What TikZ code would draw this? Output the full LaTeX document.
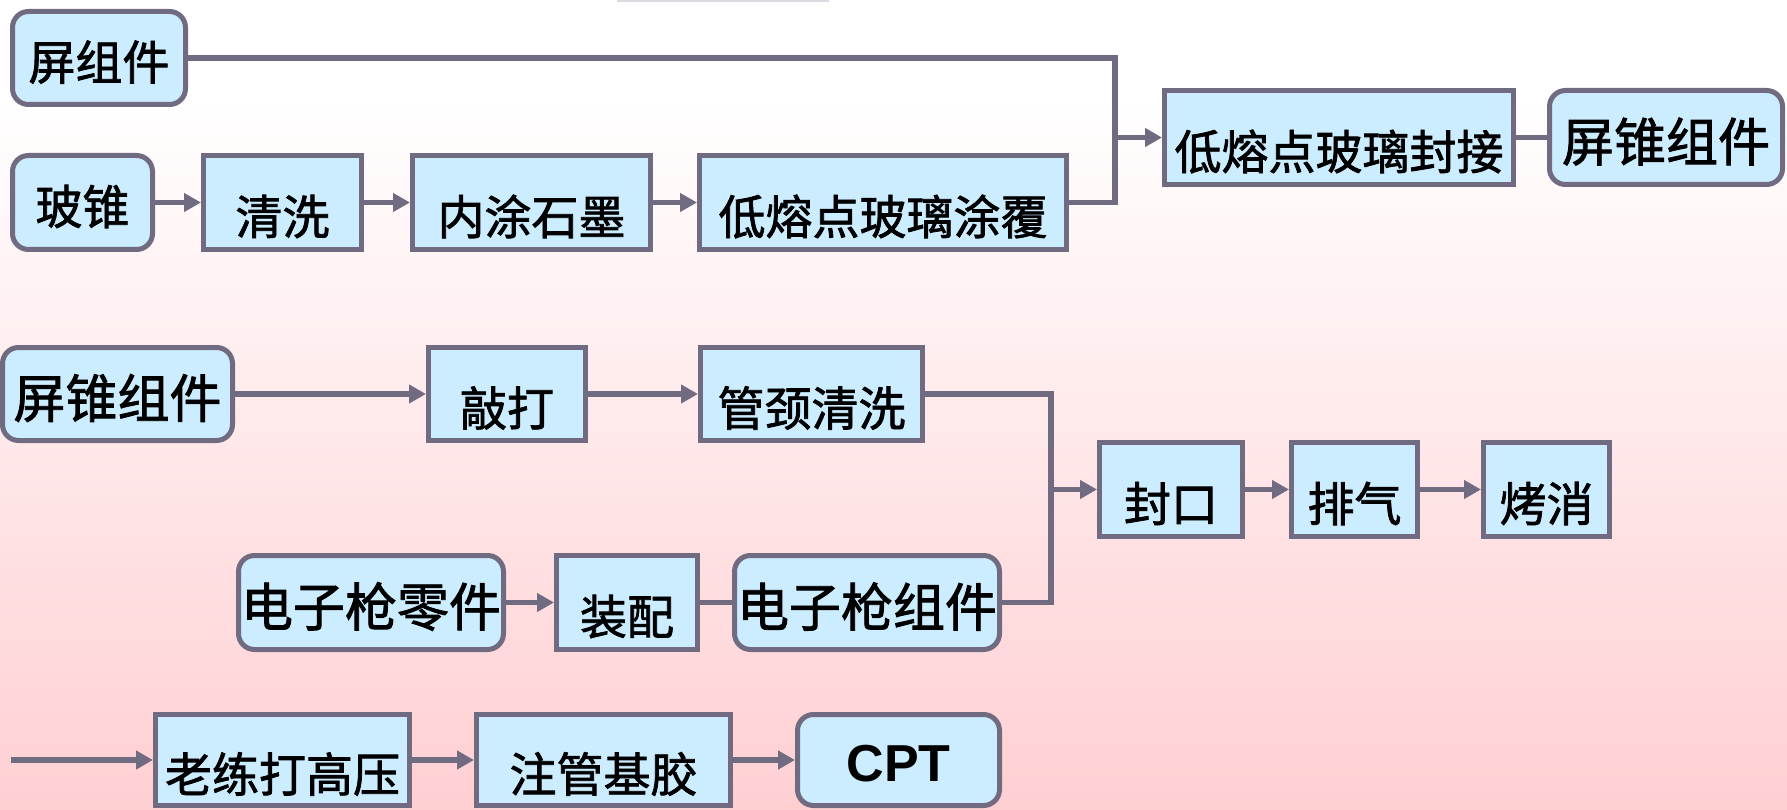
\documentclass[tikz,border=0pt]{standalone}
\usepackage{fontspec}
\setmainfont{Noto Sans CJK SC}[FakeBold=1.6]
\newfontfamily\latinbold{Liberation Sans}
\usetikzlibrary{arrows.meta}
\definecolor{edgec}{RGB}{112,107,128}
\definecolor{fillc}{RGB}{204,236,255}
\definecolor{pinkb}{RGB}{255,207,210}
\definecolor{barc}{RGB}{218,218,224}
\pgfdeclareverticalshading{bgshade}{100bp}{color(0bp)=(pinkb); color(25bp)=(pinkb); color(69bp)=(white); color(100bp)=(white)}
\newcommand{\boxtxt}[1]{\raisebox{-14pt}[\height][\depth]{#1}}
\newcommand{\pilltxt}[1]{\raisebox{-4pt}[\height][\depth]{#1}}
\begin{document}
\begin{tikzpicture}[x=1pt,y=-1pt,
  base/.style={draw=edgec, fill=fillc, line width=5pt, inner sep=0pt, font=\fontsize{47}{50}\selectfont},
  sq/.style={base},
  pill/.style={base, rounded corners=16pt},
  big/.style={font=\fontsize{52}{56}\selectfont},
  conn/.style={draw=edgec, line width=5.5pt},
  arr/.style={conn, -{Triangle[length=17pt,width=18pt]}},
  ]
\useasboundingbox (0,0) rectangle (1787,810);
\shade[shading=bgshade] (0,0) rectangle (1787,810);
\fill[barc] (617,0) rectangle (829,2);

% row 1-2
\node[pill, minimum width=173pt, minimum height=93pt] (screen) at (99,58) {\pilltxt{屏组件}};
\node[pill, minimum width=140pt, minimum height=94pt] (cone) at (82.5,202.5) {\pilltxt{玻锥}};
\node[sq, minimum width=158pt, minimum height=94pt] (clean) at (282.5,202.5) {\boxtxt{清洗}};
\node[sq, minimum width=238pt, minimum height=94pt] (graph) at (531.5,202.5) {\boxtxt{内涂石墨}};
\node[sq, minimum width=367pt, minimum height=94pt] (coat) at (883,202.5) {\boxtxt{低熔点玻璃涂覆}};
\node[sq, minimum width=349pt, minimum height=94pt] (seal) at (1339,137.5) {\boxtxt{低熔点玻璃封接}};
\node[pill, big, minimum width=233pt, minimum height=94pt] (cone2) at (1666,137.5) {\pilltxt{屏锥组件}};

% middle
\node[pill, big, minimum width=230pt, minimum height=93pt] (cone3) at (117.5,394) {\pilltxt{屏锥组件}};
\node[sq, minimum width=157pt, minimum height=93pt] (knock) at (507,394) {\boxtxt{敲打}};
\node[sq, minimum width=222pt, minimum height=93pt] (neck) at (811.5,394) {\boxtxt{管颈清洗}};
\node[pill, big, minimum width=265pt, minimum height=94pt] (parts) at (371,602.5) {\pilltxt{电子枪零件}};
\node[sq, minimum width=141pt, minimum height=94pt] (assemble) at (627,602.5) {\boxtxt{装配}};
\node[pill, big, minimum width=265pt, minimum height=94pt] (gun) at (867,602.5) {\pilltxt{电子枪组件}};
\node[sq, minimum width=143pt, minimum height=94pt] (sealoff) at (1171,489.5) {\boxtxt{封口}};
\node[sq, minimum width=126pt, minimum height=94pt] (exhaust) at (1354.5,489.5) {\boxtxt{排气}};
\node[sq, minimum width=126pt, minimum height=94pt] (bake) at (1546.5,489.5) {\boxtxt{烤消}};

% bottom
\node[sq, minimum width=254pt, minimum height=91pt] (age) at (282.5,760) {\boxtxt{老练打高压}};
\node[sq, minimum width=254pt, minimum height=91pt] (pot) at (603.5,760) {\boxtxt{注管基胶}};
\node[pill, minimum width=202pt, minimum height=91pt, font=\latinbold\bfseries\fontsize{52}{56}\selectfont] (cpt) at (898.5,760) {\pilltxt{CPT}};

% junctions
\coordinate (j1b) at (1115,202.5);
\coordinate (j1m) at (1115,137.5);
\coordinate (j2b) at (1051,602.5);
\coordinate (j2m) at (1051,489.5);
\coordinate (start) at (11,760);

% connectors
\draw[conn] (screen.east) -| (j1b) -- (coat.east);
\draw[arr] (j1m) -- (seal.west);
\draw[conn] (seal.east) -- (cone2.west);
\draw[arr] (cone.east) -- (clean.west);
\draw[arr] (clean.east) -- (graph.west);
\draw[arr] (graph.east) -- (coat.west);

\draw[arr] (cone3.east) -- (knock.west);
\draw[arr] (knock.east) -- (neck.west);
\draw[conn] (neck.east) -| (j2b) -- (gun.east);
\draw[arr] (j2m) -- (sealoff.west);
\draw[arr] (sealoff.east) -- (exhaust.west);
\draw[arr] (exhaust.east) -- (bake.west);
\draw[arr] (parts.east) -- (assemble.west);
\draw[conn] (assemble.east) -- (gun.west);

\draw[arr] (start) -- (age.west);
\draw[arr] (age.east) -- (pot.west);
\draw[arr] (pot.east) -- (cpt.west);
\end{tikzpicture}
\end{document}
